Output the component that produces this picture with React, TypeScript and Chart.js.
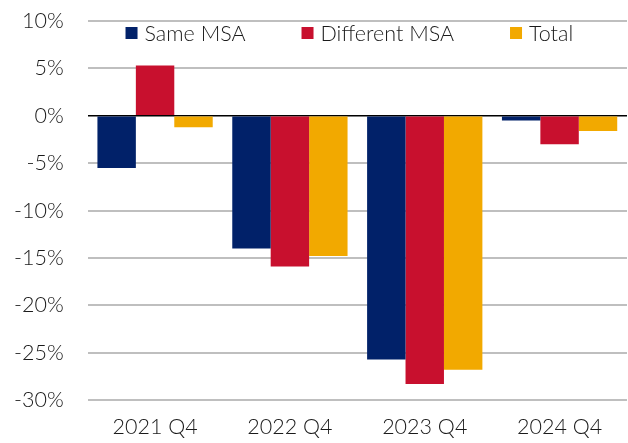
import React, { useEffect, useRef } from "react";
import { Chart, registerables } from "chart.js";

Chart.register(...registerables);

const categories = ["2021 Q4", "2022 Q4", "2023 Q4", "2024 Q4"];
const seriesNames = ["Same MSA", "Different MSA", "Total"];
const sameMSA = [-5.5, -14.0, -25.7, -0.5];
const differentMSA = [5.3, -15.9, -28.3, -3.0];
const total = [-1.2, -14.8, -26.8, -1.6];
const yTicks = [10, 5, 0, -5, -10, -15, -20, -25, -30];
const seriesColors = ["#012169", "#C8102E", "#F2A900"];

const FONT_FAMILY = "Lato, 'Open Sans', sans-serif";
const FONT_SIZE = 21.5;
const TEXT_COLOR = "#1a1a1a";

const insideLegend = {
  id: "insideLegend",
  afterDraw(chart: any, _args: any, opts: any) {
    const { ctx, chartArea } = chart;
    ctx.save();
    ctx.font = `${opts.weight} ${opts.size}px ${FONT_FAMILY}`;
    const items = chart.data.datasets.map((ds: any) => {
      const tw = ctx.measureText(ds.label).width;
      return { text: ds.label, color: ds.backgroundColor, tw, w: opts.box + opts.textGap + tw };
    });
    const totalW =
      items.reduce((s: number, it: any) => s + it.w, 0) + opts.itemGap * (items.length - 1);
    let x = (chartArea.left + chartArea.right) / 2 - totalW / 2 + opts.offsetX;
    const y = chartArea.top + opts.offsetY;
    ctx.textBaseline = "middle";
    ctx.textAlign = "left";
    for (const it of items) {
      ctx.fillStyle = it.color;
      ctx.fillRect(x, y - opts.box / 2, opts.box, opts.box);
      ctx.fillStyle = TEXT_COLOR;
      ctx.fillText(it.text, x + opts.box + opts.textGap, y + 1);
      x += it.w + opts.itemGap;
    }
    ctx.restore();
  },
};

export default function App() {
  const canvasRef = useRef<HTMLCanvasElement | null>(null);

  useEffect(() => {
    if (!canvasRef.current) return;
    const seriesData = [sameMSA, differentMSA, total];
    const chart = new Chart(canvasRef.current, {
      type: "bar",
      data: {
        labels: categories,
        datasets: seriesNames.map((name, i) => ({
          label: name,
          data: seriesData[i],
          backgroundColor: seriesColors[i],
          borderWidth: 0,
          barPercentage: 1,
          categoryPercentage: 0.855,
        })),
      },
      options: {
        animation: false,
        responsive: true,
        maintainAspectRatio: false,
        layout: { padding: { left: 14, right: 1, top: 21, bottom: 3 } },
        plugins: {
          legend: { display: false },
          tooltip: { enabled: false },
          insideLegend: {
            size: FONT_SIZE,
            weight: 300,
            box: 12,
            textGap: 7,
            itemGap: 56,
            offsetX: -8,
            offsetY: 12,
          },
        } as any,
        scales: {
          x: {
            grid: { display: false, drawTicks: false },
            border: { display: false },
            ticks: {
              color: TEXT_COLOR,
              font: { family: FONT_FAMILY, size: FONT_SIZE, weight: 300 as any },
              padding: 14,
            },
            afterFit: (scale: any) => {
              scale.height -= scale.options.ticks.padding;
            },
          },
          y: {
            min: -30,
            max: 10,
            afterBuildTicks: (scale: any) => {
              scale.ticks = yTicks.map((v) => ({ value: v }));
            },
            afterFit: (scale: any) => {
              const p = scale.options.ticks.padding;
              scale.width -= p;
              scale.paddingTop -= p;
              scale.paddingBottom -= p;
            },
            grid: {
              drawTicks: false,
              color: (c: any) => (c.tick && c.tick.value === 0 ? "#000000" : "#BFBFBF"),
              lineWidth: (c: any) => (c.tick && c.tick.value === 0 ? 1.5 : 2),
            },
            border: { display: false },
            ticks: {
              color: TEXT_COLOR,
              font: { family: FONT_FAMILY, size: FONT_SIZE, weight: 300 as any },
              padding: 24,
              callback: (v: any) => `${v}%`,
            },
          },
        },
      },
      plugins: [insideLegend],
    });
    return () => chart.destroy();
  }, []);

  return (
    <div style={{ position: "fixed", left: 0, top: 0, width: 628, height: 443, background: "#fff" }}>
      <canvas ref={canvasRef} />
    </div>
  );
}
